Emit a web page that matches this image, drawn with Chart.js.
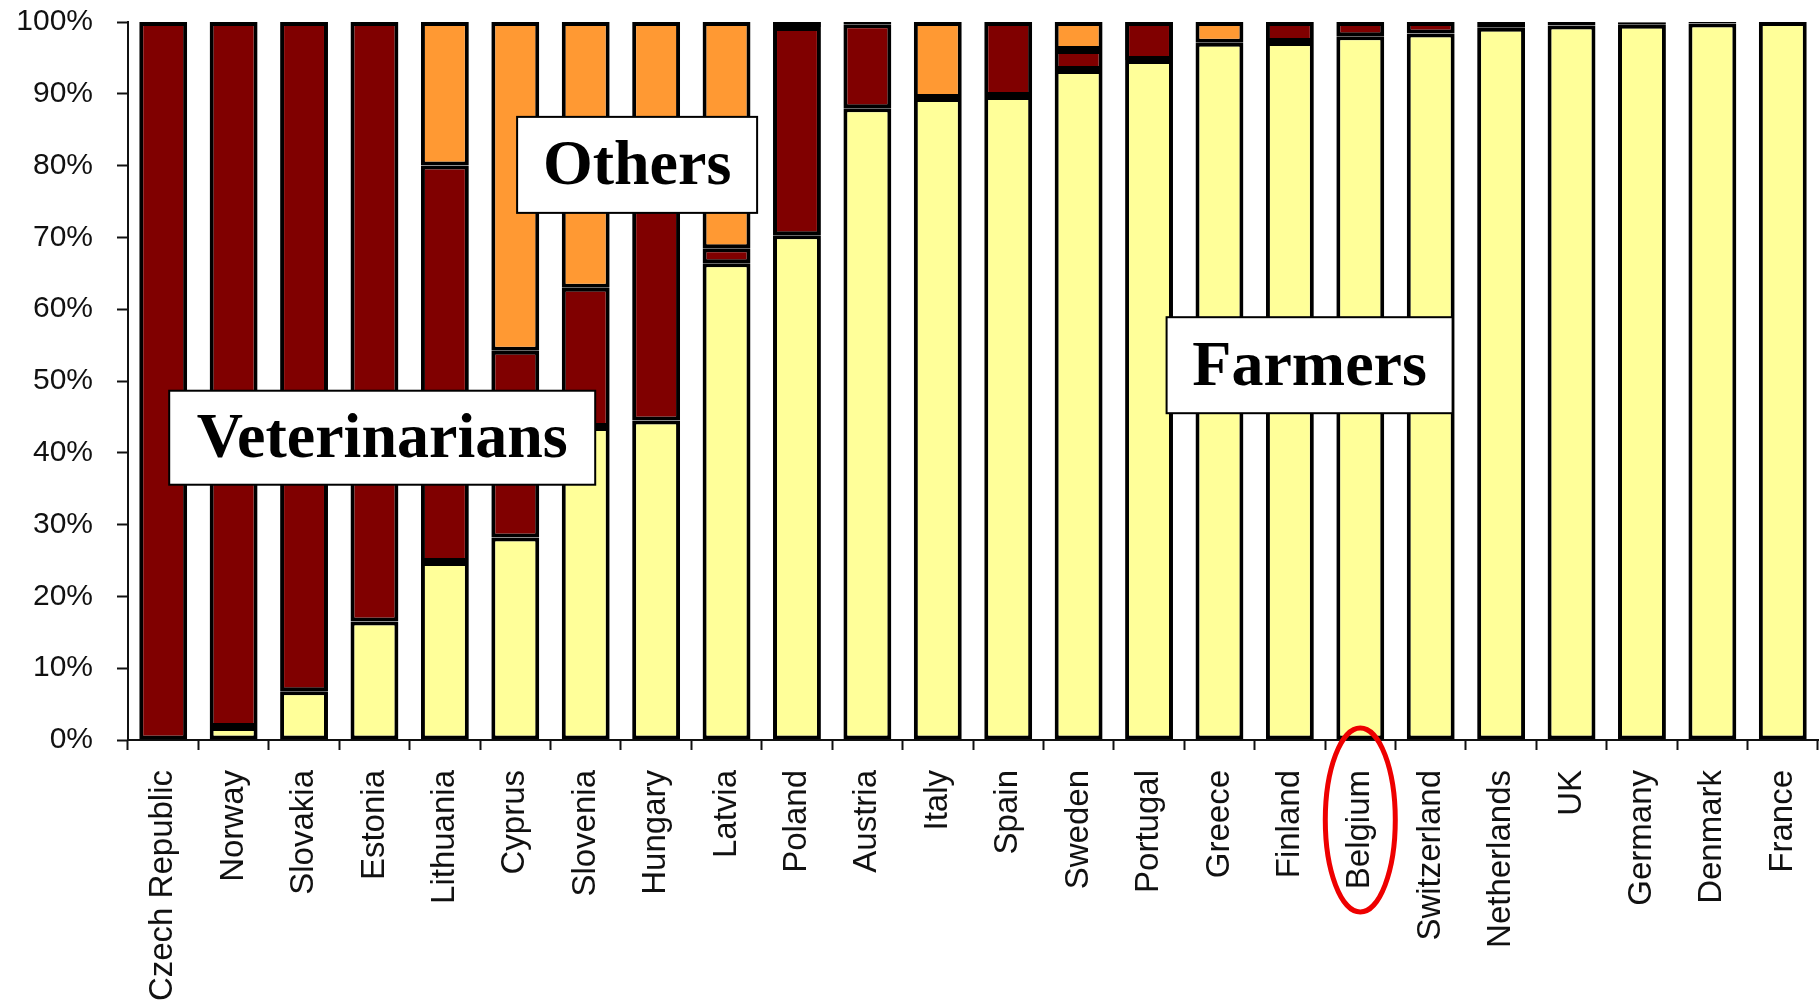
<!DOCTYPE html>
<html>
<head>
<meta charset="utf-8">
<script src="https://cdn.jsdelivr.net/npm/chart.js@4"></script>
<style>
  html, body { margin: 0; padding: 0; background: #fff; }
  #wrap { width: 1820px; height: 1005px; }
</style>
</head>
<body>
<div id="wrap"><canvas id="chart" width="1820" height="1005"></canvas></div>
<script>
// countries, left to right
const countries = ["Czech Republic", "Norway", "Slovakia", "Estonia", "Lithuania", "Cyprus", "Slovenia",
  "Hungary", "Latvia", "Poland", "Austria", "Italy", "Spain", "Sweden", "Portugal", "Greece", "Finland",
  "Belgium", "Switzerland", "Netherlands", "UK", "Germany", "Denmark", "France"];

// shares in percent
const farmers = [0, 1.8, 6.8, 16.5, 24.8, 28.2, 43.6, 44.5, 66.4, 70.3, 88, 89.4, 89.7, 93.3, 94.7,
  97.1, 97.2, 98, 98.4, 99.2, 99.5, 99.6, 99.8, 100];
const veterinarians = [100, 98.2, 93.2, 83.5, 55.2, 26.0, 19.4, 30.5, 2.1, 29.0, 11.7, 0, 10.3, 2.8, 5.3,
  0, 2.8, 2, 1.6, 0.8, 0.5, 0.3, 0, 0];
const others = [0, 0, 0, 0, 20, 45.8, 37, 25, 31.5, 0.7, 0.3, 10.6, 0, 3.9, 0,
  2.9, 0, 0, 0, 0, 0, 0.1, 0.2, 0];

const yTicks = [0, 10, 20, 30, 40, 50, 60, 70, 80, 90, 100];

const nz = arr => arr.map(v => (v > 0 ? v : null));

// text boxes placed in data coords: [text, categoryIndex, value, boxWidth, boxHeight]
const boxes = [
  ["Veterinarians", 3.11, 42.1, 426, 94],
  ["Others", 6.73, 80.1, 240, 96],
  ["Farmers", 16.28, 52.2, 286, 96]
];

const annotate = {
  id: "annotate",
  afterDatasetsDraw(chart) {
    const ctx = chart.ctx;
    const xs = chart.scales.x, ys = chart.scales.y;
    ctx.save();
    boxes.forEach(([txt, xi, yv, w, h]) => {
      const cx = xs.getPixelForValue(xi);
      const cy = ys.getPixelForValue(yv);
      ctx.fillStyle = "#fff";
      ctx.fillRect(cx - w / 2, cy - h / 2, w, h);
      ctx.strokeStyle = "#000";
      ctx.lineWidth = 2;
      ctx.strokeRect(cx - w / 2, cy - h / 2, w, h);
      ctx.fillStyle = "#000";
      ctx.font = "bold 64px 'Liberation Serif', 'Times New Roman', serif";
      ctx.textAlign = "center";
      ctx.textBaseline = "middle";
      ctx.fillText(txt, cx, cy + 3);
    });
    ctx.restore();
  },
  afterDraw(chart) {
    // red ring round the Belgium label
    const ctx = chart.ctx;
    const cx = chart.scales.x.getPixelForValue(countries.indexOf("Belgium"));
    ctx.save();
    ctx.strokeStyle = "#ee0000";
    ctx.lineWidth = 5;
    ctx.beginPath();
    ctx.ellipse(cx, 820, 35, 92, 0, 0, Math.PI * 2);
    ctx.stroke();
    ctx.restore();
  }
};

const font = size => ({ family: "'Liberation Sans', Arial, sans-serif", size: size });

new Chart(document.getElementById("chart"), {
  type: "bar",
  data: {
    labels: countries,
    datasets: [
      { label: "Farmers", data: nz(farmers), backgroundColor: "#ffff99" },
      { label: "Veterinarians", data: nz(veterinarians), backgroundColor: "#800000" },
      { label: "Others", data: nz(others), backgroundColor: "#ff9933" }
    ]
  },
  options: {
    responsive: false,
    animation: false,
    layout: { padding: { top: 22, right: 2, left: 0, bottom: 0 } },
    datasets: {
      bar: {
        borderColor: "#000",
        borderWidth: 4,
        borderSkipped: false,
        categoryPercentage: 1,
        barPercentage: 0.68
      }
    },
    plugins: { legend: { display: false }, tooltip: { enabled: false } },
    scales: {
      x: {
        stacked: true,
        grid: { offset: true, drawOnChartArea: false, tickLength: 10, tickColor: "#111", tickWidth: 2 },
        border: { color: "#111", width: 2 },
        ticks: { font: font(33), color: "#111", minRotation: 90, maxRotation: 90, padding: 20, autoSkip: false },
        afterFit(scale) {
          scale.height = 265;
          scale.paddingLeft = 0;
          scale.paddingRight = 0;
        }
      },
      y: {
        stacked: true,
        min: 0,
        max: 100,
        afterBuildTicks(scale) { scale.ticks = yTicks.map(v => ({ value: v })); },
        grid: { drawOnChartArea: false, tickLength: 11, tickColor: "#111", tickWidth: 2 },
        border: { color: "#111", width: 2 },
        ticks: { font: font(30), color: "#111", padding: 24, callback: v => v + "%" },
        afterFit(scale) {
          scale.width = 128;
          scale.paddingTop = 0;
          scale.paddingBottom = 0;
        }
      }
    }
  },
  plugins: [annotate]
});
</script>
</body>
</html>
